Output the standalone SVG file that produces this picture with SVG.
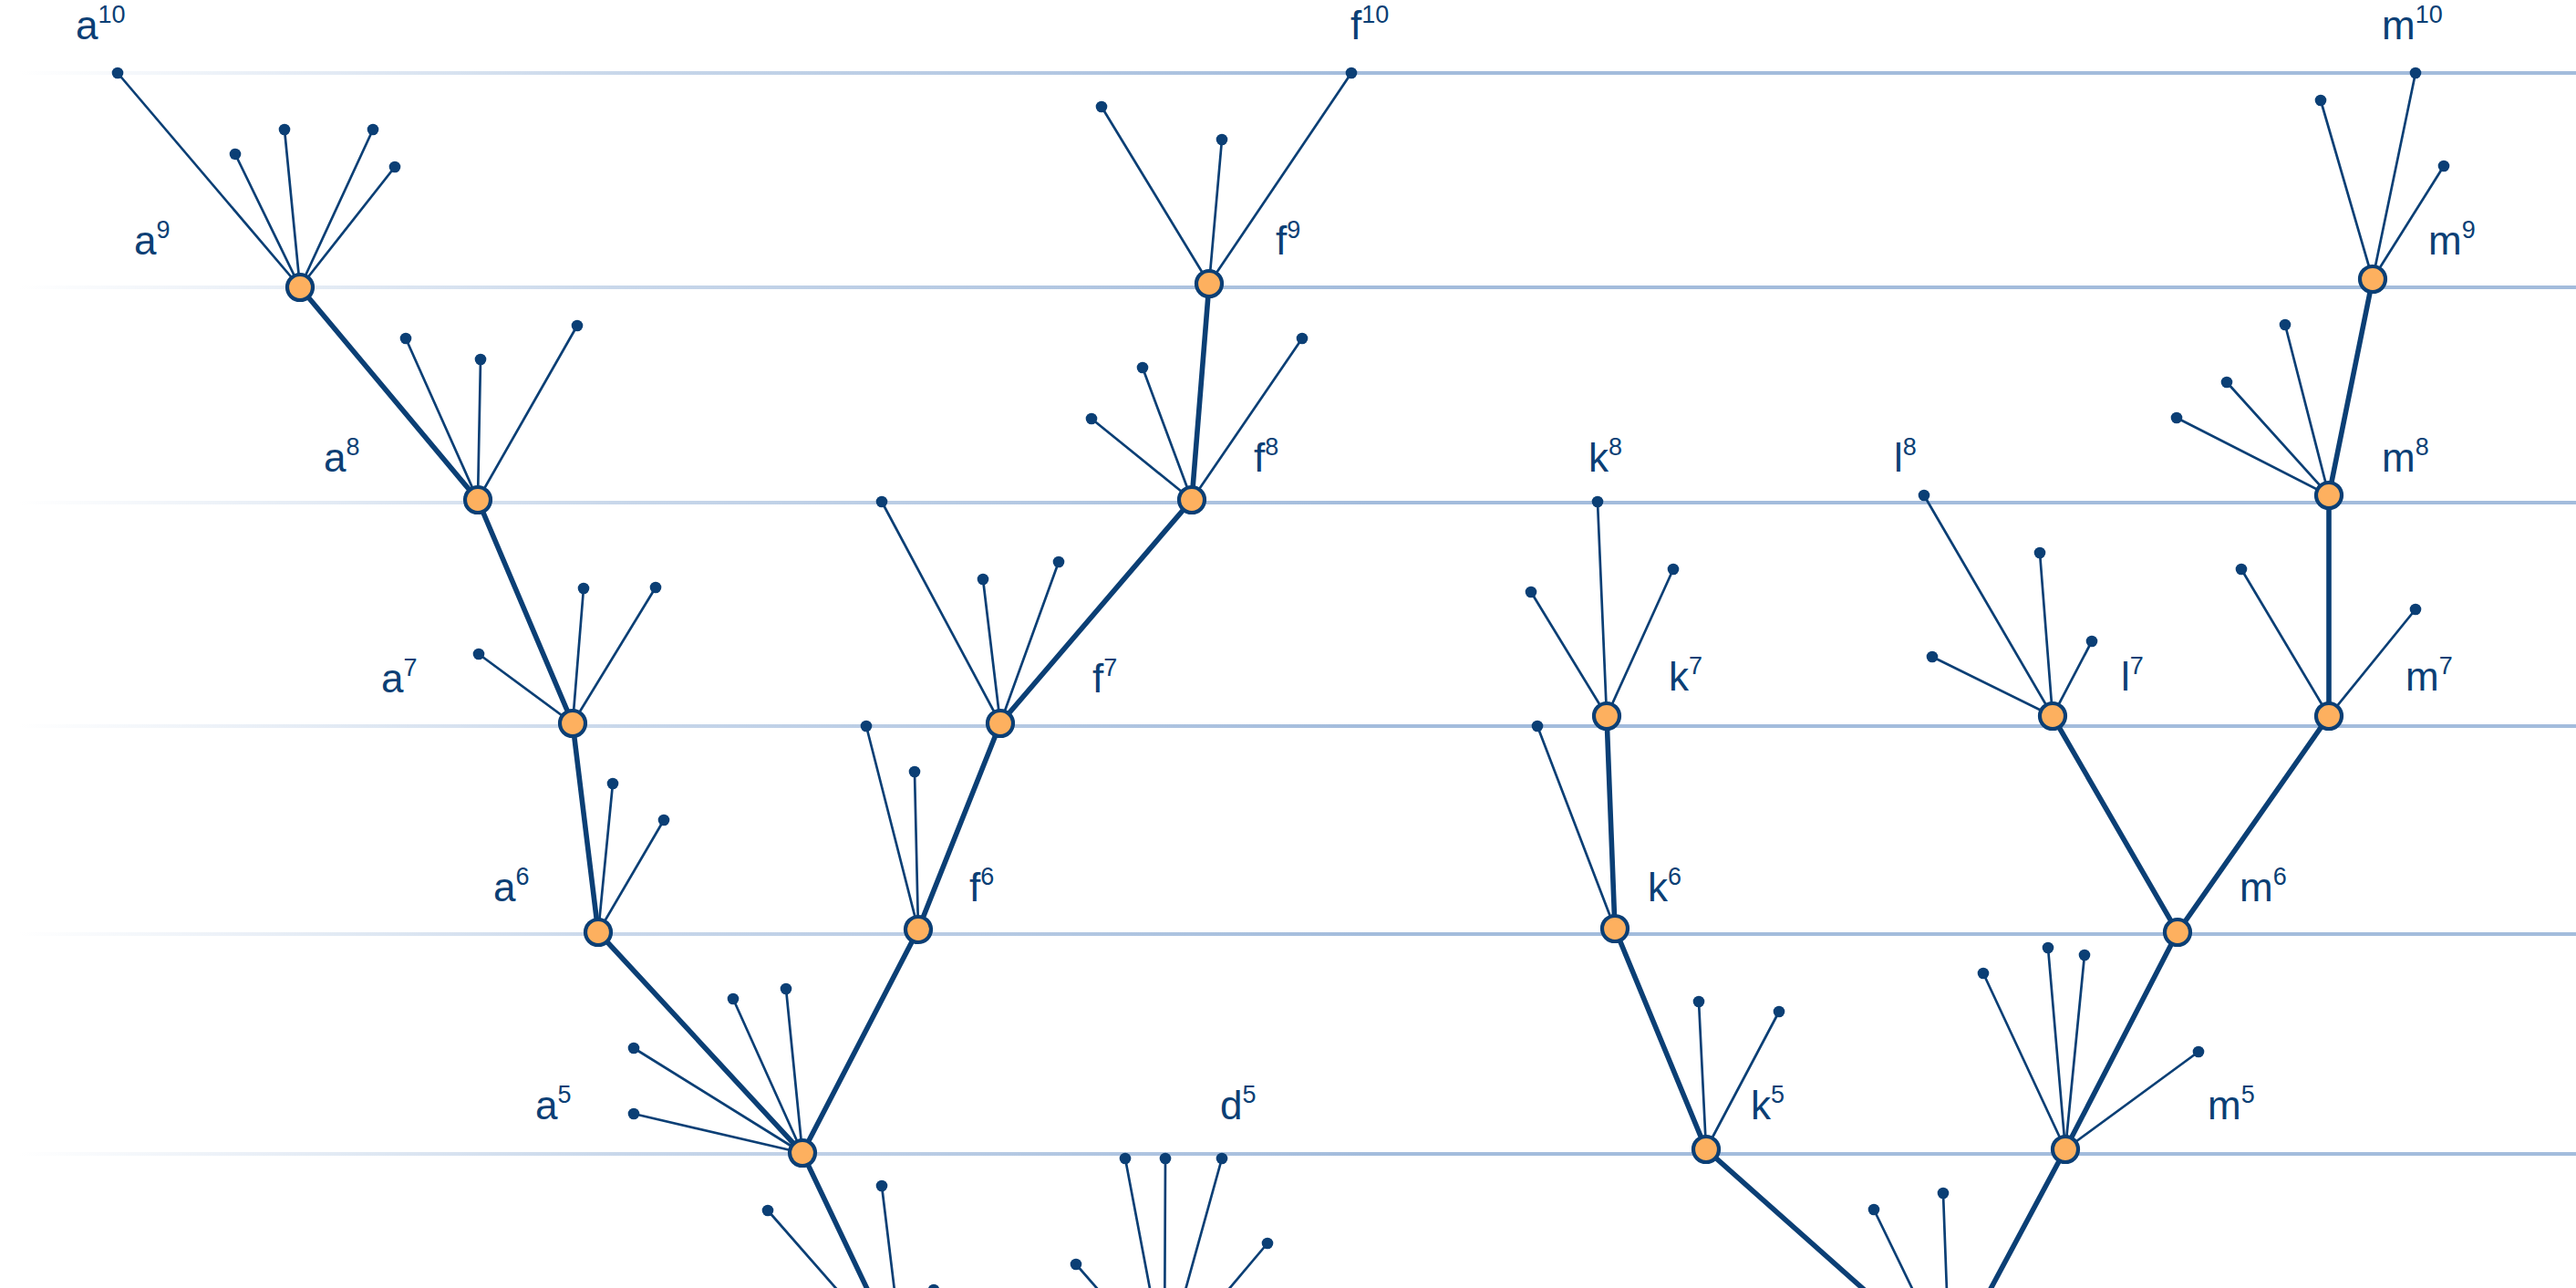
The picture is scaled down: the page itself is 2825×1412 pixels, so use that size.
<svg xmlns="http://www.w3.org/2000/svg" width="2825" height="1412" viewBox="0 0 2825 1412">
<defs>
<linearGradient id="fade" gradientUnits="userSpaceOnUse" x1="20" y1="0" x2="1500" y2="0">
<stop offset="0" stop-color="#a3bcdc" stop-opacity="0"/>
<stop offset="0.45" stop-color="#a3bcdc" stop-opacity="0.6"/>
<stop offset="1" stop-color="#a3bcdc" stop-opacity="1"/>
</linearGradient>
<style>
.hl{stroke:url(#fade);stroke-width:4;fill:none}
.e{stroke:#0b3f75;stroke-width:2.7;fill:none;stroke-linecap:round}
.t{stroke-width:5.6}
.n{fill:#fdb05f;stroke:#0b3f75;stroke-width:4.2}
.d{fill:#0b3f75}
text{font-family:"Liberation Sans",Arial,Helvetica,sans-serif;font-size:44px;fill:#0b3f75}
.s{font-size:27px}
</style>
</defs>
<rect width="2825" height="1412" fill="#ffffff"/>
<g id="levels">
<line class="hl" x1="0" y1="80" x2="2825" y2="80"/>
<line class="hl" x1="0" y1="315" x2="2825" y2="315"/>
<line class="hl" x1="0" y1="551" x2="2825" y2="551"/>
<line class="hl" x1="0" y1="796" x2="2825" y2="796"/>
<line class="hl" x1="0" y1="1024" x2="2825" y2="1024"/>
<line class="hl" x1="0" y1="1265" x2="2825" y2="1265"/>
</g>
<g id="connectors">
<path class="e" d="M329 315L129 80M329 315L258 169M329 315L312 142M329 315L409 142M329 315L433 183"/>
<path class="e" d="M524 548L445 371M524 548L527 394M524 548L633 357"/>
<path class="e" d="M628 793L525 717M628 793L640 645M628 793L719 644"/>
<path class="e" d="M656 1022L672 859M656 1022L728 899"/>
<path class="e" d="M880 1264L695 1149M880 1264L695 1221M880 1264L804 1095M880 1264L862 1084"/>
<path class="e" d="M991 1497L842 1327M991 1497L967 1300M991 1497L1024 1414"/>
<path class="e t" d="M329 315L524 548L628 793L656 1022L880 1264L991 1497"/>
<path class="e" d="M1326 311L1482 80M1326 311L1208 117M1326 311L1340 153"/>
<path class="e" d="M1307 548L1197 459M1307 548L1253 403M1307 548L1428 371"/>
<path class="e" d="M1097 793L967 550M1097 793L1078 635M1097 793L1161 616"/>
<path class="e" d="M1007 1019L950 796M1007 1019L1003 846"/>
<path class="e t" d="M1326 311L1307 548L1097 793L1007 1019L880 1264"/>
<path class="e" d="M1277 1497L1234 1270M1277 1497L1278 1270M1277 1497L1340 1270M1277 1497L1390 1363M1277 1497L1180 1386"/>
<path class="e" d="M1762 785L1752 550M1762 785L1679 649M1762 785L1835 624"/>
<path class="e" d="M1771 1018L1686 796"/>
<path class="e" d="M1871 1260L1863 1098M1871 1260L1951 1109"/>
<path class="e t" d="M1762 785L1771 1018L1871 1260L2138 1497"/>
<path class="e" d="M2251 785L2110 543M2251 785L2119 720M2251 785L2237 606M2251 785L2294 703"/>
<path class="e" d="M2602 306L2649 80M2602 306L2545 110M2602 306L2680 182"/>
<path class="e" d="M2554 543L2506 356M2554 543L2442 419M2554 543L2387 458"/>
<path class="e" d="M2554 785L2458 624M2554 785L2649 668"/>
<path class="e" d="M2265 1260L2175 1067M2265 1260L2246 1039M2265 1260L2286 1047M2265 1260L2411 1153"/>
<path class="e" d="M2138 1497L2055 1326M2138 1497L2131 1308"/>
<path class="e t" d="M2602 306L2554 543L2554 785L2388 1022L2265 1260L2138 1497"/>
<path class="e t" d="M2251 785L2388 1022"/>
</g>
<g id="leaves">
<circle class="d" cx="258" cy="169" r="6.3"/><circle class="d" cx="312" cy="142" r="6.3"/><circle class="d" cx="409" cy="142" r="6.3"/><circle class="d" cx="433" cy="183" r="6.3"/>
<circle class="d" cx="445" cy="371" r="6.3"/><circle class="d" cx="527" cy="394" r="6.3"/><circle class="d" cx="633" cy="357" r="6.3"/>
<circle class="d" cx="525" cy="717" r="6.3"/><circle class="d" cx="640" cy="645" r="6.3"/><circle class="d" cx="719" cy="644" r="6.3"/>
<circle class="d" cx="672" cy="859" r="6.3"/><circle class="d" cx="728" cy="899" r="6.3"/>
<circle class="d" cx="695" cy="1149" r="6.3"/><circle class="d" cx="695" cy="1221" r="6.3"/><circle class="d" cx="804" cy="1095" r="6.3"/><circle class="d" cx="862" cy="1084" r="6.3"/>
<circle class="d" cx="842" cy="1327" r="6.3"/><circle class="d" cx="967" cy="1300" r="6.3"/><circle class="d" cx="1024" cy="1414" r="6.3"/>
<circle class="d" cx="1208" cy="117" r="6.3"/><circle class="d" cx="1340" cy="153" r="6.3"/>
<circle class="d" cx="1197" cy="459" r="6.3"/><circle class="d" cx="1253" cy="403" r="6.3"/><circle class="d" cx="1428" cy="371" r="6.3"/>
<circle class="d" cx="967" cy="550" r="6.3"/><circle class="d" cx="1078" cy="635" r="6.3"/><circle class="d" cx="1161" cy="616" r="6.3"/>
<circle class="d" cx="950" cy="796" r="6.3"/><circle class="d" cx="1003" cy="846" r="6.3"/>
<circle class="d" cx="1234" cy="1270" r="6.3"/><circle class="d" cx="1278" cy="1270" r="6.3"/><circle class="d" cx="1340" cy="1270" r="6.3"/><circle class="d" cx="1390" cy="1363" r="6.3"/><circle class="d" cx="1180" cy="1386" r="6.3"/>
<circle class="d" cx="1679" cy="649" r="6.3"/><circle class="d" cx="1835" cy="624" r="6.3"/>
<circle class="d" cx="1686" cy="796" r="6.3"/>
<circle class="d" cx="1863" cy="1098" r="6.3"/><circle class="d" cx="1951" cy="1109" r="6.3"/>
<circle class="d" cx="2119" cy="720" r="6.3"/><circle class="d" cx="2237" cy="606" r="6.3"/><circle class="d" cx="2294" cy="703" r="6.3"/>
<circle class="d" cx="2545" cy="110" r="6.3"/><circle class="d" cx="2680" cy="182" r="6.3"/>
<circle class="d" cx="2506" cy="356" r="6.3"/><circle class="d" cx="2442" cy="419" r="6.3"/><circle class="d" cx="2387" cy="458" r="6.3"/>
<circle class="d" cx="2458" cy="624" r="6.3"/><circle class="d" cx="2649" cy="668" r="6.3"/>
<circle class="d" cx="2175" cy="1067" r="6.3"/><circle class="d" cx="2246" cy="1039" r="6.3"/><circle class="d" cx="2286" cy="1047" r="6.3"/><circle class="d" cx="2411" cy="1153" r="6.3"/>
<circle class="d" cx="2055" cy="1326" r="6.3"/><circle class="d" cx="2131" cy="1308" r="6.3"/>
</g>
<g id="a10"><circle class="d" cx="129" cy="80" r="6.3"/><text x="83" y="43">a<tspan class="s" dy="-18">10</tspan></text></g>
<g id="a9"><circle class="n" cx="329" cy="315" r="14"/><text x="147" y="279">a<tspan class="s" dy="-18">9</tspan></text></g>
<g id="a8"><circle class="n" cx="524" cy="548" r="14"/><text x="355" y="517">a<tspan class="s" dy="-18">8</tspan></text></g>
<g id="a7"><circle class="n" cx="628" cy="793" r="14"/><text x="418" y="759">a<tspan class="s" dy="-18">7</tspan></text></g>
<g id="a6"><circle class="n" cx="656" cy="1022" r="14"/><text x="541" y="988">a<tspan class="s" dy="-18">6</tspan></text></g>
<g id="a5"><circle class="n" cx="880" cy="1264" r="14"/><text x="587" y="1227">a<tspan class="s" dy="-18">5</tspan></text></g>
<g id="d5"><text x="1338" y="1227">d<tspan class="s" dy="-18">5</tspan></text></g>
<g id="f10"><circle class="d" cx="1482" cy="80" r="6.3"/><text x="1481" y="43">f<tspan class="s" dy="-18">10</tspan></text></g>
<g id="f9"><circle class="n" cx="1326" cy="311" r="14"/><text x="1399" y="279">f<tspan class="s" dy="-18">9</tspan></text></g>
<g id="f8"><circle class="n" cx="1307" cy="548" r="14"/><text x="1375" y="517">f<tspan class="s" dy="-18">8</tspan></text></g>
<g id="f7"><circle class="n" cx="1097" cy="793" r="14"/><text x="1198" y="759">f<tspan class="s" dy="-18">7</tspan></text></g>
<g id="f6"><circle class="n" cx="1007" cy="1019" r="14"/><text x="1063" y="988">f<tspan class="s" dy="-18">6</tspan></text></g>
<g id="k8"><circle class="d" cx="1752" cy="550" r="6.3"/><text x="1742" y="517">k<tspan class="s" dy="-18">8</tspan></text></g>
<g id="k7"><circle class="n" cx="1762" cy="785" r="14"/><text x="1830" y="757">k<tspan class="s" dy="-18">7</tspan></text></g>
<g id="k6"><circle class="n" cx="1771" cy="1018" r="14"/><text x="1807" y="988">k<tspan class="s" dy="-18">6</tspan></text></g>
<g id="k5"><circle class="n" cx="1871" cy="1260" r="14"/><text x="1920" y="1227">k<tspan class="s" dy="-18">5</tspan></text></g>
<g id="l8"><circle class="d" cx="2110" cy="543" r="6.3"/><text x="2077" y="517">l<tspan class="s" dy="-18">8</tspan></text></g>
<g id="l7"><circle class="n" cx="2251" cy="785" r="14"/><text x="2326" y="757">l<tspan class="s" dy="-18">7</tspan></text></g>
<g id="m10"><circle class="d" cx="2649" cy="80" r="6.3"/><text x="2612" y="43">m<tspan class="s" dy="-18">10</tspan></text></g>
<g id="m9"><circle class="n" cx="2602" cy="306" r="14"/><text x="2663" y="279">m<tspan class="s" dy="-18">9</tspan></text></g>
<g id="m8"><circle class="n" cx="2554" cy="543" r="14"/><text x="2612" y="517">m<tspan class="s" dy="-18">8</tspan></text></g>
<g id="m7"><circle class="n" cx="2554" cy="785" r="14"/><text x="2638" y="757">m<tspan class="s" dy="-18">7</tspan></text></g>
<g id="m6"><circle class="n" cx="2388" cy="1022" r="14"/><text x="2456" y="988">m<tspan class="s" dy="-18">6</tspan></text></g>
<g id="m5"><circle class="n" cx="2265" cy="1260" r="14"/><text x="2421" y="1227">m<tspan class="s" dy="-18">5</tspan></text></g>
</svg>
